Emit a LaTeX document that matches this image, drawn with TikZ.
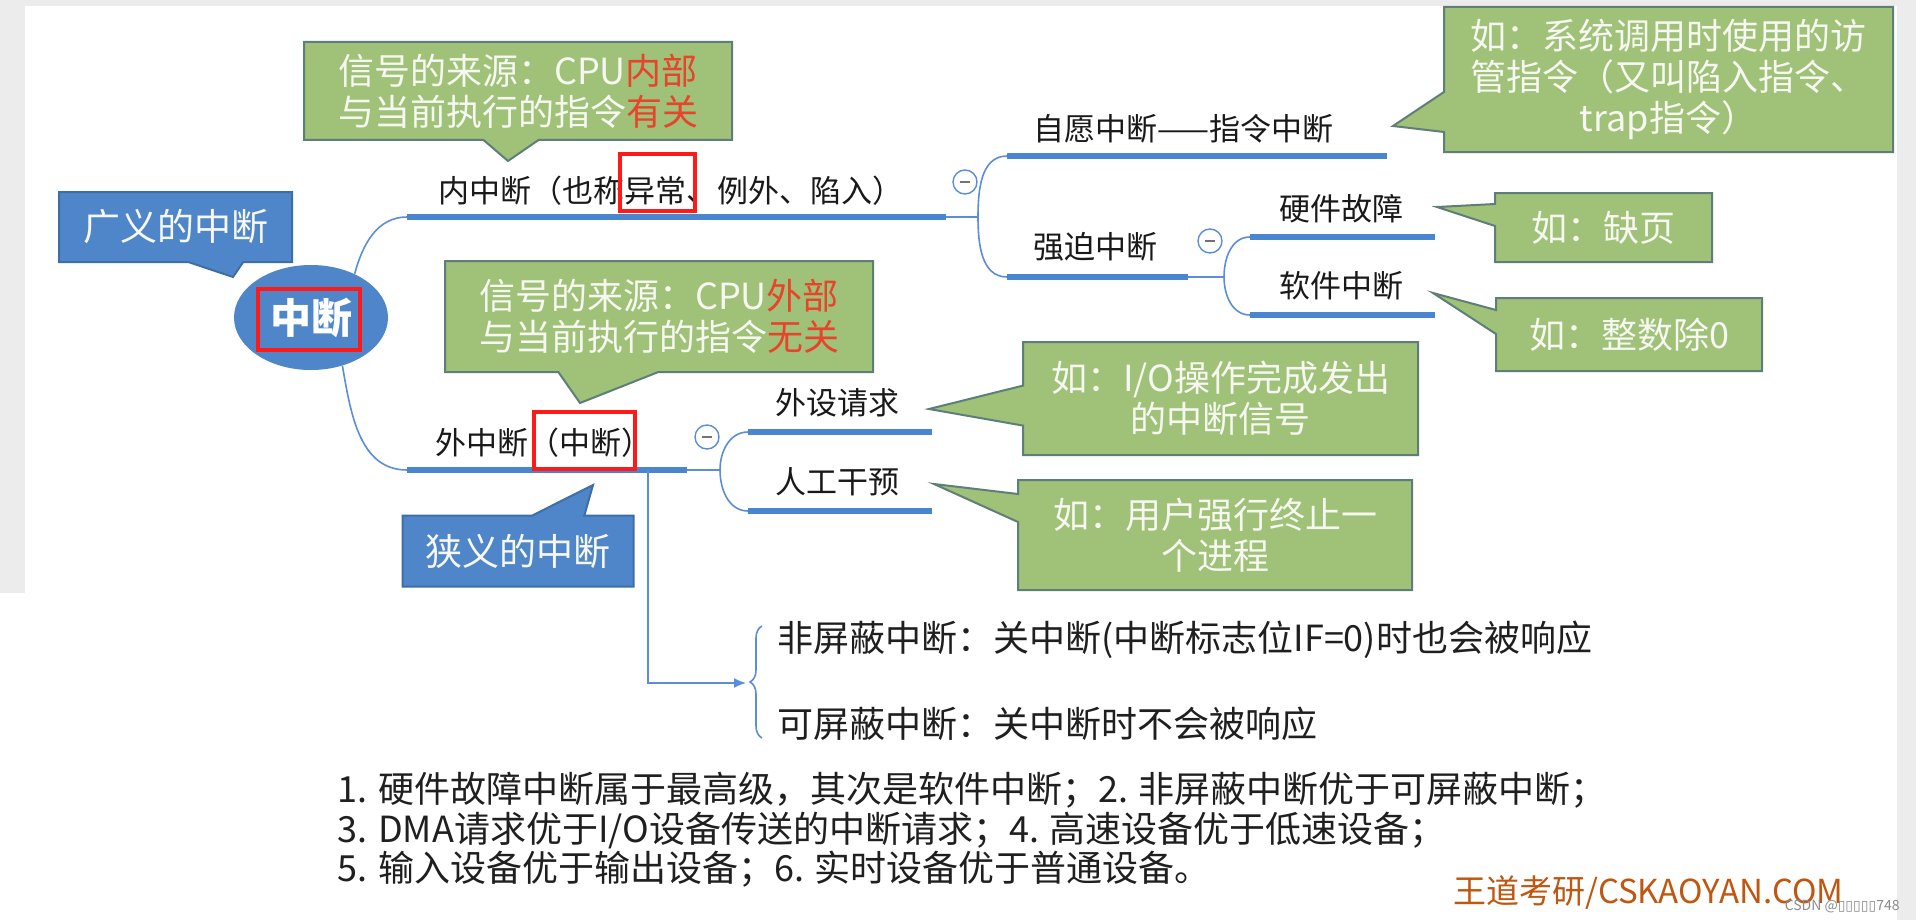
\documentclass[tikz,border=0pt]{standalone}
\usepackage{fontspec}
\setmainfont{Noto Sans CJK SC}
\newfontfamily\symfont{DejaVu Sans}
\usepackage{tikz}
\usetikzlibrary{arrows.meta, positioning, calc, shapes.geometric, shapes.callouts, decorations.pathreplacing}

\definecolor{LineBlue}{HTML}{4A86CF}
\definecolor{TwigBlue}{HTML}{5B8ED6}
\definecolor{NoteBlue}{HTML}{4F86C9}
\definecolor{NoteBlueEdge}{HTML}{3E6EA8}
\definecolor{NoteGreen}{HTML}{9FC178}
\definecolor{NoteGreenEdge}{HTML}{5E7F78}
\definecolor{NoteText}{HTML}{F6F7F0}
\definecolor{HiRed}{HTML}{FF1A1A}
\definecolor{WarmRed}{HTML}{E8432B}
\definecolor{MarkOrange}{HTML}{C0560F}
\definecolor{BackGray}{HTML}{ECECEC}

\tikzset{
  trunk/.style={line width=2.6pt, LineBlue},
  twig/.style={line width=0.8pt, TwigBlue},
  topic/.style={anchor=west, inner sep=0pt, text=black!90, font=\fontsize{15.5}{18}\selectfont},
  fold/.style={circle, draw=TwigBlue, line width=0.7pt, fill=white, minimum size=12pt, inner sep=0pt,
    path picture={\draw[black!55, line width=0.6pt] ([xshift=-2.5pt]path picture bounding box.center) -- ([xshift=2.5pt]path picture bounding box.center);}},
  greennote/.style={rectangle callout, fill=NoteGreen, draw=NoteGreenEdge, line width=1pt, text=NoteText,
    align=center, inner sep=0pt, font=\fontsize{18}{20.5}\selectfont},
  bluenote/.style={rectangle callout, fill=NoteBlue, draw=NoteBlueEdge, line width=1pt, text=NoteText,
    align=center, inner sep=0pt, font=\fontsize{18.5}{21}\selectfont},
  hibox/.style={draw=HiRed, line width=2pt},
  plain/.style={anchor=west, inner sep=0pt, text=black!88, font=\fontsize{18}{19.8}\selectfont},
}

\begin{document}
\begin{tikzpicture}[x=0.5pt, y=-0.5pt, >=Stealth]
  \useasboundingbox (0,0) rectangle (1916,920);
  % slide background
  \fill[white] (0,0) rectangle (1916,920);
  \fill[BackGray] (0,0) rectangle (1916,6);
  \fill[BackGray] (0,0) rectangle (25,593);
  \fill[BackGray] (1897,0) rectangle (1916,920);

  % root
  \node[ellipse, fill=NoteBlue, minimum width=77pt, minimum height=52.5pt, inner sep=0pt,
    text=white, font=\fontsize{20.5}{22}\selectfont\bfseries] (zd) at (311,317.5) {中断};
  \draw[hibox] (258,289) rectangle (360,350);

  % first level
  \coordinate (nei-l) at (407,217);
  \coordinate (nei-r) at (946,217);
  \coordinate (wai-l) at (407,470);
  \coordinate (wai-r) at (687,470);
  \draw[trunk] (nei-l) -- (nei-r);
  \draw[trunk] (wai-l) -- (wai-r);
  \draw[twig] (zd.45) to[out=75, in=180] (nei-l);
  \draw[twig] (zd.-57) to[out=-80, in=180] (wai-l);
  \node[topic] (nei) at (438,191) {内中断（也称异常、例外、陷入）};
  \node[topic] (wai) at (435,443) {外中断（中断）};
  \draw[hibox] (620,154) rectangle (695,211);
  \draw[hibox] (534,412) rectangle (635,469);

  % inner interrupts
  \coordinate (j1) at (978,217);
  \coordinate (zy-l) at (1007,156);
  \coordinate (zy-r) at (1387,156);
  \coordinate (qp-l) at (1007,277);
  \coordinate (qp-r) at (1188,277);
  \draw[twig] (nei-r) -- (j1) to[out=90, in=180] (zy-l);
  \draw[twig] (j1) to[out=-90, in=180] (qp-l);
  \draw[trunk] (zy-l) -- (zy-r);
  \draw[trunk] (qp-l) -- (qp-r);
  \node[fold] (f1) at (965,182) {};
  \node[topic] (zy) at (1033,129) {自愿中断——指令中断};
  \node[topic] (qp) at (1033,247) {强迫中断};

  \coordinate (j2) at (1224,277);
  \coordinate (yj-l) at (1250,237);
  \coordinate (yj-r) at (1435,237);
  \coordinate (rj-l) at (1250,315);
  \coordinate (rj-r) at (1435,315);
  \draw[twig] (qp-r) -- (j2) to[out=90, in=180] (yj-l);
  \draw[twig] (j2) to[out=-90, in=180] (rj-l);
  \draw[trunk] (yj-l) -- (yj-r);
  \draw[trunk] (rj-l) -- (rj-r);
  \node[fold] (f2) at (1210,241) {};
  \node[topic] (yj) at (1279,209) {硬件故障};
  \node[topic] (rj) at (1279,286) {软件中断};

  % outer interrupts
  \coordinate (j3) at (720,470);
  \coordinate (wq-l) at (748,432);
  \coordinate (wq-r) at (932,432);
  \coordinate (rg-l) at (748,511);
  \coordinate (rg-r) at (932,511);
  \draw[twig] (wai-r) -- (j3) to[out=90, in=180] (wq-l);
  \draw[twig] (j3) to[out=-90, in=180] (rg-l);
  \draw[trunk] (wq-l) -- (wq-r);
  \draw[trunk] (rg-l) -- (rg-r);
  \node[fold] (f3) at (707,437) {};
  \node[topic] (wq) at (775,403) {外设请求};
  \node[topic] (rg) at (775,482) {人工干预};

  % maskable or not
  \coordinate (drop) at (648,470);
  \coordinate (kz) at (746,683);
  \draw[twig, -{Latex[length=6pt, width=5pt]}] (drop) |- (kz);
  \draw[twig, decorate, decoration={brace, amplitude=6pt}] (762,738) -- (762,626);
  \node[plain] (fp) at (777,640) {非屏蔽中断：关中断(中断标志位IF=0)时也会被响应};
  \node[plain] (kp) at (777,724) {可屏蔽中断：关中断时不会被响应};

  % callouts
  \node[bluenote, minimum width=116.5pt, minimum height=35pt, callout absolute pointer={(233,277)},
    callout pointer width=27.5pt] (gy) at (175.5,227) {广义的中断};
  \node[bluenote, minimum width=115.5pt, minimum height=35.5pt, callout absolute pointer={(593,485)},
    callout pointer width=26pt] (xy) at (518,551) {狭义的中断};
  \node[greennote, minimum width=214pt, minimum height=49pt, callout absolute pointer={(508,161)},
    callout pointer width=27.5pt] (ns) at (518,91)
    {信号的来源：CPU\textcolor{WarmRed}{内部}\\与当前执行的指令\textcolor{WarmRed}{有关}};
  \node[greennote, minimum width=214pt, minimum height=55.5pt, callout absolute pointer={(580,403)},
    callout pointer width=50pt] (ws) at (659,316.5)
    {信号的来源：CPU\textcolor{WarmRed}{外部}\\与当前执行的指令\textcolor{WarmRed}{无关}};
  \node[greennote, minimum width=224.5pt, minimum height=72.5pt, callout absolute pointer={(1393,126)},
    callout pointer width=20pt] (ty) at (1668.5,79.5)
    {如：系统调用时使用的访\\管指令（又叫陷入指令、\\trap指令）};
  \node[greennote, minimum width=108.5pt, minimum height=34.5pt, callout absolute pointer={(1437,207)},
    callout pointer width=11pt] (qy) at (1603.5,227.5) {如：缺页};
  \node[greennote, minimum width=133pt, minimum height=36.5pt, callout absolute pointer={(1433,293)},
    callout pointer width=12pt] (zs) at (1629,334.5) {如：整数除0};
  \node[greennote, minimum width=197.5pt, minimum height=56.5pt, callout absolute pointer={(929,409)},
    callout pointer width=20pt] (io) at (1220.5,398.5) {如：I/O操作完成发出\\的中断信号};
  \node[greennote, minimum width=197pt, minimum height=55pt, callout absolute pointer={(934,484)},
    callout pointer width=14pt] (yh) at (1215,535) {如：用户强行终止一\\个进程};

  % priorities
  \node[plain, align=left] (rank) at (337,830)
    {1. 硬件故障中断属于最高级，其次是软件中断；2. 非屏蔽中断优于可屏蔽中断；\\
     3. DMA请求优于I/O设备传送的中断请求；4. 高速设备优于低速设备；\\
     5. 输入设备优于输出设备；6. 实时设备优于普通设备。};

  \node[anchor=west, inner sep=0pt, text=MarkOrange, font=\fontsize{16.5}{18}\selectfont] (wm)
    at (1453,893) {王道考研/CSKAOYAN.COM};
  \node[anchor=east, inner sep=0pt, text=black!45, font=\fontsize{7}{8}\selectfont] (csdn)
    at (1900,906) {CSDN @{\symfont ▯▯▯▯▯}748};
\end{tikzpicture}
\end{document}
